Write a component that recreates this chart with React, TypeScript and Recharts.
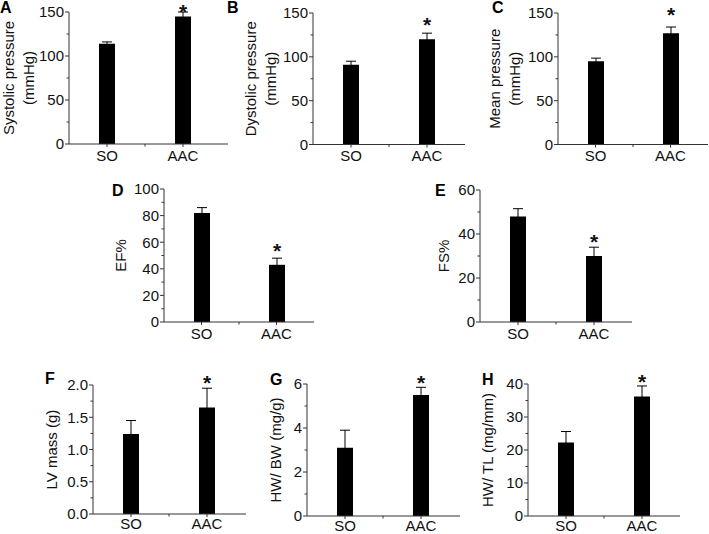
import React from "react";
import { BarChart, Bar, XAxis, YAxis, ErrorBar, LabelList } from "recharts";

const groups = ["SO", "AAC"];
const significant = [false, true];

// means and error bars
const systolicMean = [114, 145];
const systolicErr = [2, 5];
const dystolicMean = [91, 120];
const dystolicErr = [4, 7];
const meanPressureMean = [95, 127];
const meanPressureErr = [3.5, 7];
const efMean = [82, 43];
const efErr = [4, 5];
const fsMean = [48, 30];
const fsErr = [3.5, 4];
const lvMassMean = [1.24, 1.65];
const lvMassErr = [0.21, 0.3];
const hwBwMean = [3.1, 5.5];
const hwBwErr = [0.8, 0.35];
const hwTlMean = [22.3, 36.2];
const hwTlErr = [3.3, 3.2];

// tick labels
const pressureTicks = [0, 50, 100, 150];
const pressureMinor = [25, 75, 125];
const efTicks = [0, 20, 40, 60, 80, 100];
const efMinor = [10, 30, 50, 70, 90];
const fsTicks = [0, 20, 40, 60];
const fsMinor = [10, 30, 50];
const lvTicks = [0, 0.5, 1.0, 1.5, 2.0];
const lvMinor = [0.25, 0.75, 1.25, 1.75];
const hwBwTicks = [0, 2, 4, 6];
const hwBwMinor = [1, 3, 5];
const hwTlTicks = [0, 10, 20, 30, 40];
const hwTlMinor = [5, 15, 25, 35];

const FONT = "'Liberation Sans', Arial, Helvetica, sans-serif";
const INK = "#111";
const AXIS = "#333";

interface Panel {
  letter: string;
  title: string[];
  mean: number[];
  err: number[];
  major: number[];
  minor: number[];
  decimals: number;
  // layout (page px)
  x0: number;
  x1: number;
  y0: number;
  y1: number;
  titleX: number;
  letterX: number;
  letterY: number;
  starGap: number;
  xTickGap: number;
}

const panels: Panel[] = [
  { letter: "A", title: ["Systolic pressure", "(mmHg)"], mean: systolicMean, err: systolicErr, major: pressureTicks, minor: pressureMinor, decimals: 0, x0: 69, x1: 228, y0: 12, y1: 144, titleX: 18, letterX: 0, letterY: 13, starGap: 4, xTickGap: 3 },
  { letter: "B", title: ["Dystolic pressure", "(mmHg)"], mean: dystolicMean, err: dystolicErr, major: pressureTicks, minor: pressureMinor, decimals: 0, x0: 313, x1: 465, y0: 12.5, y1: 144, titleX: 260, letterX: 227, letterY: 13, starGap: 11.5, xTickGap: 3 },
  { letter: "C", title: ["Mean pressure", "(mmHg)"], mean: meanPressureMean, err: meanPressureErr, major: pressureTicks, minor: pressureMinor, decimals: 0, x0: 558, x1: 708, y0: 12.5, y1: 144, titleX: 504, letterX: 492, letterY: 13, starGap: 16, xTickGap: 3 },
  { letter: "D", title: ["EF%"], mean: efMean, err: efErr, major: efTicks, minor: efMinor, decimals: 0, x0: 164, x1: 314, y0: 189, y1: 322, titleX: 120, letterX: 112, letterY: 196, starGap: 10.5, xTickGap: 3 },
  { letter: "E", title: ["FS%"], mean: fsMean, err: fsErr, major: fsTicks, minor: fsMinor, decimals: 0, x0: 480, x1: 632, y0: 190, y1: 322, titleX: 443, letterX: 435, letterY: 196, starGap: 9, xTickGap: 3 },
  { letter: "F", title: ["LV mass (g)"], mean: lvMassMean, err: lvMassErr, major: lvTicks, minor: lvMinor, decimals: 1, x0: 93, x1: 246, y0: 385, y1: 514, titleX: 51, letterX: 45, letterY: 384, starGap: 9, xTickGap: 1 },
  { letter: "G", title: ["HW/ BW (mg/g)"], mean: hwBwMean, err: hwBwErr, major: hwBwTicks, minor: hwBwMinor, decimals: 0, x0: 307, x1: 460, y0: 384, y1: 516, titleX: 275, letterX: 270, letterY: 385, starGap: 8, xTickGap: 1 },
  { letter: "H", title: ["HW/ TL (mg/mm)"], mean: hwTlMean, err: hwTlErr, major: hwTlTicks, minor: hwTlMinor, decimals: 0, x0: 528, x1: 680, y0: 384, y1: 516, titleX: 487, letterX: 482, letterY: 385, starGap: 7.5, xTickGap: 1 },
];

const PAD_L = 72;
const PAD_T = 20;
const PAD_B = 30;
const Y_W = 40;
const X_H = 26;
const X_TICK = 3;
const STAR_SIZE = 21;

const YTick = (props: any) => {
  const { x, y, payload, major, decimals } = props;
  const isMajor = major.includes(payload.value);
  return (
    <g>
      <line x1={x - (isMajor ? 4 : 2.5)} x2={x} y1={y} y2={y} stroke={AXIS} strokeWidth={1} />
      {isMajor && (
        <text x={x - 5} y={y} dy="0.36em" textAnchor="end" fontSize={15} fill={INK} fontFamily={FONT}>
          {Number(payload.value).toFixed(decimals)}
        </text>
      )}
    </g>
  );
};

// category label plus the small boundary tick between the two groups
const XTick = (props: any) => {
  const { x, y, payload, index, gap } = props;
  const axisY = y - X_TICK - gap;
  const half = Number(payload?.offset);
  return (
    <g>
      {index === 0 && Number.isFinite(half) && half > 0 && (
        <line x1={x + half} x2={x + half} y1={axisY} y2={axisY + 2.5} stroke={AXIS} strokeWidth={1} />
      )}
      <text x={x} y={y} dy="0.71em" textAnchor="middle" fontSize={15} fill={INK} fontFamily={FONT}>
        {payload.value}
      </text>
    </g>
  );
};

const AxisTitle = ({ lines, cx, cy }: { lines: string[]; cx: number; cy: number }) => {
  const start = cy - ((lines.length - 1) * 20) / 2;
  return (
    <text transform={`rotate(-90 ${cx} ${cy})`} textAnchor="middle" fontSize={15} fill={INK} fontFamily={FONT}>
      {lines.map((t, i) => (
        <tspan key={i} x={cx} y={start + i * 20} dominantBaseline="central">
          {t}
        </tspan>
      ))}
    </text>
  );
};

const PanelChart = ({ p }: { p: Panel }) => {
  const data = groups.map((g, i) => ({ group: g, mean: p.mean[i], err: p.err[i], sig: significant[i] ? "*" : "" }));
  const plotW = p.x1 - p.x0;
  const plotH = p.y1 - p.y0;
  const width = plotW + PAD_L + 2;
  const height = plotH + PAD_T + PAD_B;
  const top = p.major[p.major.length - 1];
  const ticks = [...p.major, ...p.minor].sort((a, b) => a - b);
  const padRight = Math.max(0, plotW - 152);

  const star = (lp: any) => {
    const { x, y, width: w, height: h, value, index } = lp;
    if (!value) return null;
    const errPx = (p.err[index] * h) / p.mean[index];
    // asterisk ink centre sits ~0.51em above the baseline
    const baseline = y - errPx - p.starGap + STAR_SIZE * 0.51;
    return (
      <text x={x + w / 2} y={baseline} textAnchor="middle" fontSize={STAR_SIZE} fontWeight="bold" fill={INK} fontFamily={FONT}>
        {value}
      </text>
    );
  };

  return (
    <div style={{ position: "absolute", left: p.x0 - PAD_L, top: p.y0 - PAD_T, width, height }}>
      <BarChart
        width={width}
        height={height}
        data={data}
        margin={{ top: PAD_T, left: PAD_L - Y_W, right: 2, bottom: PAD_B - X_H }}
      >
        <XAxis
          dataKey="group"
          height={X_H}
          padding={{ left: 0, right: padRight }}
          stroke={AXIS}
          tickSize={X_TICK}
          tickMargin={p.xTickGap}
          tick={(tp: any) => <XTick {...tp} gap={p.xTickGap} />}
        />
        <YAxis
          type="number"
          width={Y_W}
          domain={[0, top]}
          ticks={ticks}
          interval={0}
          stroke={AXIS}
          tickLine={false}
          tickSize={0}
          tickMargin={0}
          tick={(tp: any) => <YTick {...tp} major={p.major} decimals={p.decimals} />}
          label={<AxisTitle lines={p.title} cx={PAD_L - (p.x0 - p.titleX)} cy={PAD_T + plotH / 2} />}
        />
        <Bar dataKey="mean" fill="#000" barSize={16} isAnimationActive={false}>
          <ErrorBar dataKey="err" width={5} stroke="#000" strokeWidth={1} isAnimationActive={false} />
          <LabelList dataKey="sig" content={star} />
        </Bar>
      </BarChart>
    </div>
  );
};

export default function App() {
  return (
    <div
      style={{
        position: "absolute",
        left: 0,
        top: 0,
        width: 709,
        height: 534,
        overflow: "hidden",
        background: "#fff",
        fontFamily: FONT,
      }}
    >
      {panels.map((p) => (
        <PanelChart key={p.letter} p={p} />
      ))}
      <svg width={709} height={534} style={{ position: "absolute", left: 0, top: 0, pointerEvents: "none" }}>
        {panels.map((p) => (
          <text key={p.letter} x={p.letterX} y={p.letterY} fontSize={16} fontWeight="bold" fill="#000" fontFamily={FONT}>
            {p.letter}
          </text>
        ))}
      </svg>
    </div>
  );
}
